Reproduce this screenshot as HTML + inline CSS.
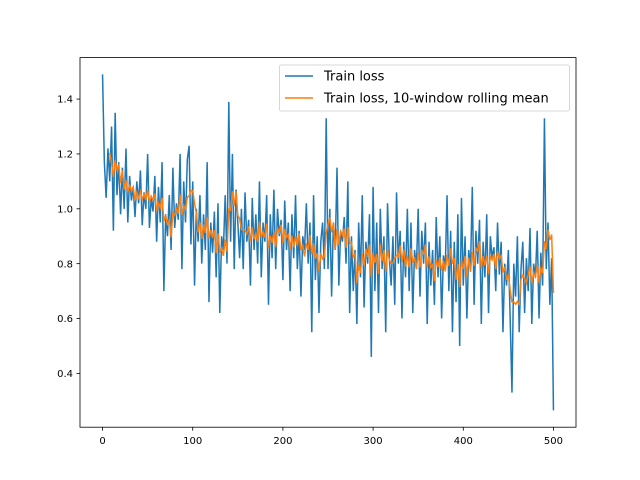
<!DOCTYPE html>
<html><head><meta charset="utf-8"><style>
body{margin:0;background:#fff;}
svg{display:block;font-family:"DejaVu Sans","Liberation Sans",sans-serif;}
</style></head><body>
<svg id="chart" width="640" height="480" viewBox="0 0 640 480" xmlns="http://www.w3.org/2000/svg">
<rect width="640" height="480" fill="#fff"/>
<g id="plot"></g>
<rect x="80" y="57.6" width="496" height="369.6" fill="none" stroke="#000" stroke-width="0.8"/>
<g id="ticks"></g>
<g>
<rect x="279.5" y="65" width="290" height="46" rx="2" fill="#fff" fill-opacity="0.8" stroke="#ccc" stroke-width="0.8"/>
<line x1="285" y1="76" x2="313" y2="76" stroke="#1f77b4" stroke-width="1.5"/>
<text x="324" y="80.5" font-size="13">Train loss</text>
<line x1="285" y1="98" x2="313" y2="98" stroke="#ff7f0e" stroke-width="1.5"/>
<text x="324" y="102.5" font-size="13">Train loss, 10-window rolling mean</text>
</g>
</svg>
<script>
const xStep = 2;
const loss = [
1.49,1.17,1.04,1.22,1.10,1.30,0.92,1.35,1.05,1.17,0.98,1.15,1.00,1.22,0.95,1.12,1.03,1.08,0.97,1.10,1.02,1.14,0.94,1.06,1.00,
1.20,0.93,1.04,0.99,1.12,0.88,1.08,0.95,1.17,0.70,0.98,0.90,1.05,0.85,1.15,0.93,1.02,0.96,1.20,0.78,1.10,0.95,1.18,1.23,0.87,
1.10,0.72,1.00,0.88,1.05,0.80,0.98,0.85,1.17,0.66,0.95,0.84,0.99,0.75,1.02,0.62,0.90,0.85,1.05,0.80,1.39,0.88,1.20,0.78,1.07,
0.95,0.82,1.00,0.78,1.06,0.88,0.96,0.72,1.04,0.85,0.98,0.80,1.10,0.75,0.95,0.88,1.05,0.65,0.98,0.82,1.07,0.78,1.00,0.90,0.96,
0.74,1.03,0.85,0.95,0.70,0.98,0.82,1.05,0.78,0.92,0.68,0.90,0.85,1.02,0.80,0.95,0.55,1.05,0.74,0.90,0.62,0.88,0.95,0.78,1.33,
0.78,1.00,0.68,0.95,0.85,1.15,0.72,0.92,0.88,0.97,0.80,1.10,0.62,0.90,0.70,0.85,0.58,0.95,0.75,1.05,0.64,0.88,0.80,0.98,0.46,
1.08,0.70,0.95,0.62,1.00,0.78,0.90,0.55,1.02,0.82,0.72,0.90,0.65,1.06,0.80,0.92,0.60,0.88,0.75,1.00,0.70,0.95,0.62,0.85,0.78,
1.00,0.68,0.92,0.80,0.95,0.58,0.88,0.72,0.85,0.65,0.97,0.75,0.90,0.60,0.83,0.78,1.05,0.70,0.92,0.55,0.88,0.66,0.98,0.50,1.04,
0.72,0.90,0.60,0.85,0.78,1.08,0.65,0.92,0.80,0.96,0.58,0.88,0.75,0.98,0.62,0.90,0.82,0.86,0.70,0.95,0.76,0.88,0.55,0.80,0.72,
0.85,0.60,0.33,0.80,0.68,0.90,0.55,0.78,0.88,0.62,0.82,0.70,0.93,0.58,0.80,0.75,0.92,0.60,0.84,0.72,1.33,0.78,0.95,0.65,0.82,0.265
];
const xTicks = [0,100,200,300,400,500];
const yTicks = [0.4,0.6,0.8,1.0,1.2,1.4];
const yTickLabels = ["0.4","0.6","0.8","1.0","1.2","1.4"];
const windowSize = 5;

const X0=80,X1=576,Y0=57.6,Y1=427.2;
const xs = loss.map((_,i)=>i*xStep);
const xmin=Math.min(...xs),xmax=Math.max(...xs);
const xpad=(xmax-xmin)*0.05;
const ymin0=Math.min(...loss),ymax0=Math.max(...loss);
const ypad=(ymax0-ymin0)*0.05;
const xs_=v=>X0+(v-(xmin-xpad))/((xmax+xpad)-(xmin-xpad))*(X1-X0);
const ys_=v=>Y1-(v-(ymin0-ypad))/((ymax0+ypad)-(ymin0-ypad))*(Y1-Y0);
const NS="http://www.w3.org/2000/svg";
const plot=document.getElementById('plot');
const ticks=document.getElementById('ticks');

const p1=document.createElementNS(NS,'path');
p1.setAttribute('d',loss.map((v,i)=>(i?'L':'M')+xs_(xs[i]).toFixed(2)+' '+ys_(v).toFixed(2)).join(''));
p1.setAttribute('fill','none');p1.setAttribute('stroke','#1f77b4');p1.setAttribute('stroke-width','1.5');


plot.appendChild(p1);

let d='';
for(let i=windowSize-1;i<loss.length;i++){
  let s=0;for(let k=0;k<windowSize;k++)s+=loss[i-k];
  d+=(i===windowSize-1?'M':'L')+xs_(xs[i]).toFixed(2)+' '+ys_(s/windowSize).toFixed(2);
}
const p2=document.createElementNS(NS,'path');
p2.setAttribute('d',d);p2.setAttribute('fill','none');p2.setAttribute('stroke','#ff7f0e');p2.setAttribute('stroke-width','1.5');


plot.appendChild(p2);

xTicks.forEach(t=>{
  const x=xs_(t);
  const l=document.createElementNS(NS,'line');
  l.setAttribute('x1',x);l.setAttribute('x2',x);l.setAttribute('y1',Y1);l.setAttribute('y2',Y1+3.5);
  l.setAttribute('stroke','#000');l.setAttribute('stroke-width','0.8');
  
  
  ticks.appendChild(l);
  const tx=document.createElementNS(NS,'text');
  tx.setAttribute('x',x);tx.setAttribute('y',Y1+17);tx.setAttribute('text-anchor','middle');tx.setAttribute('font-size','10');
  tx.textContent=String(t);
  
  
  ticks.appendChild(tx);
});
yTicks.forEach((t,i)=>{
  const y=ys_(t);
  const l=document.createElementNS(NS,'line');
  l.setAttribute('x1',X0-3.5);l.setAttribute('x2',X0);l.setAttribute('y1',y);l.setAttribute('y2',y);
  l.setAttribute('stroke','#000');l.setAttribute('stroke-width','0.8');
  
  
  ticks.appendChild(l);
  const tx=document.createElementNS(NS,'text');
  tx.setAttribute('x',X0-7);tx.setAttribute('y',y+3.6);tx.setAttribute('text-anchor','end');tx.setAttribute('font-size','10');
  tx.textContent=yTickLabels[i];
  
  
  ticks.appendChild(tx);
});
</script>
</body></html>
